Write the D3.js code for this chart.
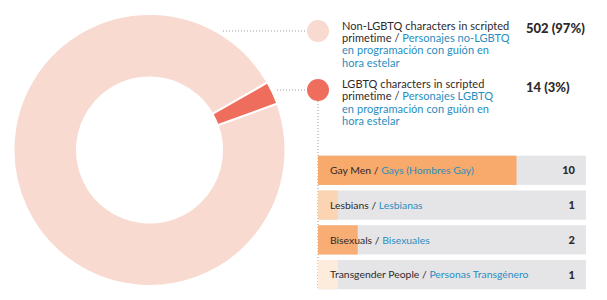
<!DOCTYPE html>
<html><head><meta charset="utf-8">
<script src="https://cdn.jsdelivr.net/npm/d3@7"></script>
<style>body{margin:0;background:#fff}svg{display:block}</style>
</head><body>
<svg id="c" width="607" height="300"></svg>
<script>
const donutCategories = ["Non-LGBTQ", "LGBTQ"];
const donutValues = [502, 14];
const donutPercents = ["97%", "3%"];
const donutColors = ["#f9dad1", "#ef6d5c"];

const barCategoriesEn = ["Gay Men", "Lesbians", "Bisexuals", "Transgender People"];
const barCategoriesEs = ["Gays (Hombres Gay)", "Lesbianas", "Bisexuales", "Personas Transgénero"];
const barValues = [10, 1, 2, 1];
const barColors = ["#f8a96c", "#fbd4b4", "#f8ad75", "#fdebdc"];

const svg = d3.select("#c");
const font = "Lato, 'Open Sans', sans-serif";
const dark = "#2e2a2a", blue = "#2a8dc0";

// donut
const cx = 149.5, cy = 150, R = 136, r = 72.5;
const a0 = 70 * Math.PI / 180;
const pie = d3.pie().sort(null).startAngle(a0).endAngle(a0 + 2 * Math.PI);
const arcs = pie(donutValues);
const arc = d3.arc().innerRadius(r).outerRadius(R);
svg.append("g").attr("transform", `translate(${cx},${cy})`)
  .selectAll("path").data(arcs).join("path")
  .attr("d", arc).attr("fill", (d, i) => donutColors[i])
  .attr("stroke", "#fff").attr("stroke-width", 2);

// legend
const legY = [31, 90];
const circX = 318;
function dl(x1, y1, x2, y2) {
  svg.append("line").attr("x1", x1).attr("y1", y1).attr("x2", x2).attr("y2", y2)
    .attr("stroke", "#9a9a9a").attr("stroke-width", 1).attr("stroke-dasharray", "1,2");
}
dl(223, legY[0], circX - 11, legY[0]);
dl(277, legY[1], circX - 11, legY[1]);
dl(circX, legY[1] + 11, circX, 290);

const legendLines = [
  [[["Non-LGBTQ characters in scripted", dark]], [["primetime / ", dark], ["Personajes no-LGBTQ", blue]], [["en programación con guión en", blue]], [["hora estelar", blue]]],
  [[["LGBTQ characters in scripted", dark]], [["primetime / ", dark], ["Personajes LGBTQ", blue]], [["en programación con guión en", blue]], [["hora estelar", blue]]]
];
const lineTop = [29.5, 88];
donutValues.forEach((v, i) => {
  svg.append("circle").attr("cx", circX).attr("cy", legY[i]).attr("r", 11).attr("fill", donutColors[i]);
  const t = svg.append("text").attr("font-family", font).attr("font-size", 11).attr("letter-spacing", 0.05);
  legendLines[i].forEach((ln, j) => {
    ln.forEach((seg, k) => {
      const ts = t.append("tspan").text(seg[0]).attr("fill", seg[1]);
      if (k === 0) ts.attr("x", 342).attr("y", lineTop[i] + j * 12.4);
    });
  });
  svg.append("text").attr("x", 526).attr("y", legY[i] + 0.5).attr("dy", "0.1em")
    .attr("font-family", font).attr("font-weight", 900).attr("font-size", 13).attr("fill", dark)
    .text(`${v} (${donutPercents[i]})`);
});

// bars
const x = d3.scaleLinear().domain([0, 13.5]).range([318, 586]);
const y = d3.scaleBand().domain(barCategoriesEn).range([155, 290]).paddingInner(0.16).paddingOuter(0.02);
const g = svg.append("g");
barCategoriesEn.forEach((c, i) => {
  g.append("rect").attr("x", x(0)).attr("y", y(c)).attr("width", x(13.5) - x(0)).attr("height", y.bandwidth()).attr("fill", "#e5e5e7");
  g.append("rect").attr("x", x(0)).attr("y", y(c)).attr("width", x(barValues[i]) - x(0)).attr("height", y.bandwidth()).attr("fill", barColors[i]);
  const t = g.append("text").attr("x", 330).attr("y", y(c) + y.bandwidth() / 2).attr("dy", "0.35em")
    .attr("font-family", font).attr("font-size", 10.4);
  t.append("tspan").text(c + " / ").attr("fill", dark);
  t.append("tspan").text(barCategoriesEs[i]).attr("fill", blue);
  g.append("text").attr("x", 575).attr("y", y(c) + y.bandwidth() / 2).attr("dy", "0.35em")
    .attr("text-anchor", "end").attr("font-family", font).attr("font-weight", 900).attr("font-size", 11).attr("fill", dark)
    .text(barValues[i]);
});
</script>
</body></html>
